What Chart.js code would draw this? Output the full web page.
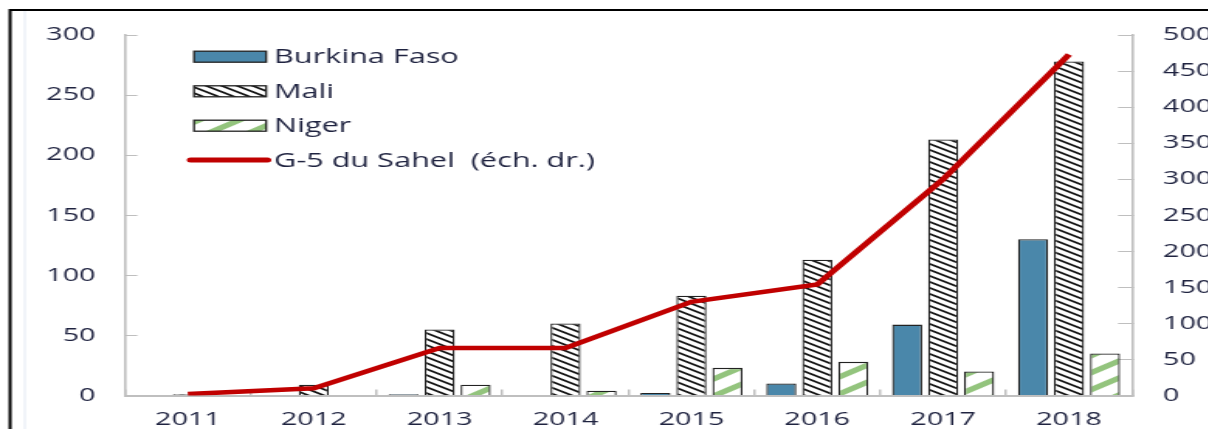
<!DOCTYPE html>
<html>
<head>
<meta charset="utf-8">
<title>G-5 du Sahel</title>
<script src="https://cdn.jsdelivr.net/npm/chart.js@4.4.1/dist/chart.umd.min.js"></script>
<style>
    html, body { margin: 0; padding: 0; background: #fff; overflow: hidden; }
    /* the chart is laid out narrow and widened, which gives the broad lettering */
    #wrap { width: 780px; height: 429px; transform: scaleX(1.55); transform-origin: 0 0; }
    canvas { display: block; }
</style>
</head>
<body>
<div id="wrap"><canvas id="sahelChart" width="780" height="429"></canvas></div>
<script>
const years = ['2011', '2012', '2013', '2014', '2015', '2016', '2017', '2018'];
const burkina = [0, 0, 1, 0, 2, 10, 59, 130];
const mali = [1, 9, 55, 60, 83, 113, 213, 278];
const niger = [0, 0, 9, 4, 23, 28, 20, 35];
// right-hand scale
const g5 = [2, 10, 66, 66, 130, 154, 300, 473];

const leftMax = 300;
const rightMax = 500;
const tickStep = 50;

const textColor = '#1f2340';
const axisColor = '#bfbfbf';
const fontName = '"Open Sans", "Noto Sans", sans-serif';
const tickSize = 18.5;

// striped fills for the bars
const makeStripes = (w, h, bg, fg, lw, dir) => {
    const c = document.createElement('canvas');
    c.width = w;
    c.height = h;
    const g = c.getContext('2d');
    g.fillStyle = bg;
    g.fillRect(0, 0, w, h);
    g.strokeStyle = fg;
    g.lineWidth = lw;
    for (let n = -1; n <= 1; n++) {
        g.beginPath();
        if (dir === 'down') {
            g.moveTo(-w, -h + n * h);
            g.lineTo(2 * w, 2 * h + n * h);
        } else {
            g.moveTo(-w, 2 * h + n * h);
            g.lineTo(2 * w, -h + n * h);
        }
        g.stroke();
    }
    return g.createPattern(c, 'repeat');
};

const maliFill = makeStripes(10, 6, '#ffffff', '#111111', 1.7, 'down');
const nigerFill = makeStripes(26, 17, '#ffffff', '#93c47d', 5, 'up');

// black frame on the top and left edges
const framePlugin = {
    id: 'frame',
    beforeDraw: (chart) => {
        const ctx = chart.ctx;
        ctx.save();
        ctx.fillStyle = '#fff';
        ctx.fillRect(0, 0, chart.width, chart.height);
        ctx.strokeStyle = '#e3eaf4';
        ctx.lineWidth = 1;
        ctx.beginPath();
        ctx.moveTo(16, 11);
        ctx.lineTo(16, chart.height);
        ctx.stroke();
        ctx.strokeStyle = '#000';
        ctx.lineWidth = 2;
        ctx.beginPath();
        ctx.moveTo(6.5, chart.height);
        ctx.lineTo(6.5, 10);
        ctx.lineTo(chart.width, 10);
        ctx.stroke();
        ctx.restore();
    }
};

// legend drawn inside the plot, top left
const insideLegend = {
    id: 'insideLegend',
    afterDraw: (chart) => {
        const ctx = chart.ctx;
        const rows = [56.7, 91.3, 125.7, 160];
        const order = [1, 2, 3, 0];
        ctx.save();
        ctx.font = '19.8px ' + fontName;
        ctx.textBaseline = 'middle';
        ctx.fillStyle = textColor;
        order.forEach((di, i) => {
            const ds = chart.data.datasets[di];
            const y = rows[i];
            if (ds.type === 'line') {
                ctx.strokeStyle = ds.borderColor;
                ctx.lineWidth = 5;
                ctx.lineCap = 'round';
                ctx.beginPath();
                ctx.moveTo(123, y);
                ctx.lineTo(172.5, y);
                ctx.stroke();
            } else {
                ctx.fillStyle = ds.backgroundColor;
                ctx.fillRect(125.2, y - 5.5, 46.5, 11);
                ctx.strokeStyle = ds.borderColor;
                ctx.lineWidth = 1.3;
                ctx.strokeRect(125.2, y - 5.5, 46.5, 11);
            }
            ctx.fillStyle = textColor;
            ctx.fillText(ds.label, 176.8, y + 1);
        });
        ctx.restore();
    }
};

// tick padding would otherwise push the plot area in from top and bottom
const fixY = (width) => (scale) => {
    scale.width = width;
    scale.paddingTop = 10;
    scale.paddingBottom = 10;
};

const barStyle = {
    borderColor: '#222222',
    borderWidth: 1.3,
    categoryPercentage: 0.858,
    barPercentage: 0.835,
    yAxisID: 'y',
    order: 1
};

var ctx = document.getElementById('sahelChart').getContext('2d');

new Chart(ctx, {
    type: 'bar',
    data: {
        labels: years,
        datasets: [
            {
                type: 'line',
                label: 'G-5 du Sahel  (éch. dr.)',
                data: g5,
                borderColor: '#c00000',
                borderWidth: 4.5,
                pointRadius: 0,
                tension: 0,
                fill: false,
                yAxisID: 'y1',
                order: 0
            },
            Object.assign({ label: 'Burkina Faso', data: burkina, backgroundColor: '#4a87aa' }, barStyle),
            Object.assign({ label: 'Mali', data: mali, backgroundColor: maliFill }, barStyle),
            Object.assign({ label: 'Niger', data: niger, backgroundColor: nigerFill }, barStyle)
        ]
    },
    options: {
        responsive: false,
        animation: false,
        devicePixelRatio: 1,
        layout: {
            padding: { top: 35, left: 0, right: 0, bottom: 0 }
        },
        plugins: {
            legend: { display: false },
            tooltip: { enabled: false }
        },
        scales: {
            x: {
                grid: {
                    offset: true,
                    drawOnChartArea: false,
                    color: axisColor,
                    lineWidth: 1.5,
                    tickLength: -6
                },
                border: { color: axisColor, width: 2 },
                ticks: {
                    color: textColor,
                    font: { family: fontName, size: tickSize },
                    padding: 19,
                    maxRotation: 0
                },
                afterFit: (scale) => { scale.height = 33.5; }
            },
            y: {
                position: 'left',
                min: 0,
                max: leftMax,
                grid: {
                    drawOnChartArea: false,
                    color: axisColor,
                    lineWidth: 1,
                    tickLength: -8
                },
                border: { color: axisColor, width: 1.6 },
                ticks: {
                    stepSize: tickStep,
                    color: textColor,
                    font: { family: fontName, size: tickSize },
                    padding: 27
                },
                afterFit: fixY(80.6)
            },
            y1: {
                position: 'right',
                min: 0,
                max: rightMax,
                grid: {
                    drawOnChartArea: false,
                    color: axisColor,
                    lineWidth: 1,
                    tickLength: -9
                },
                border: { color: axisColor, width: 1.6 },
                ticks: {
                    stepSize: tickStep,
                    color: textColor,
                    font: { family: fontName, size: tickSize },
                    padding: 29
                },
                afterFit: fixY(49.7)
            }
        }
    },
    plugins: [framePlugin, insideLegend]
});
</script>
</body>
</html>
